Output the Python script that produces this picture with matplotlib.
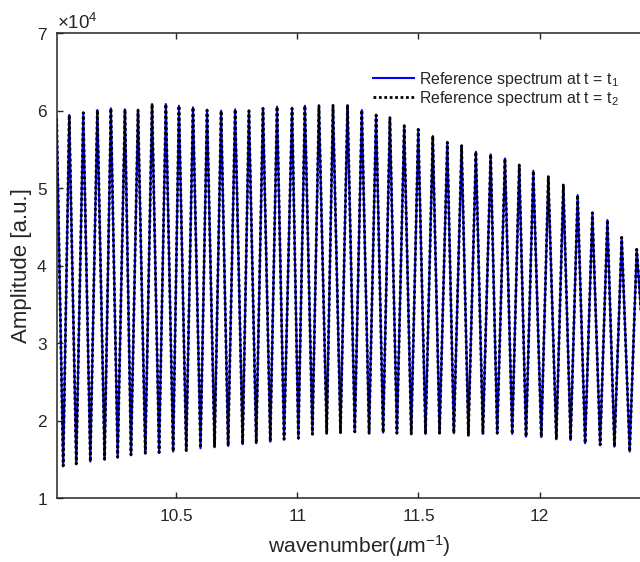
import numpy as np
import matplotlib
matplotlib.use('Agg')
import matplotlib.pyplot as plt

plt.rcParams['font.family'] = ['Liberation Sans', 'DejaVu Sans']
plt.rcParams['mathtext.fontset'] = 'custom'
plt.rcParams['mathtext.rm'] = 'Liberation Sans'
plt.rcParams['mathtext.it'] = 'Liberation Sans:italic'
plt.rcParams['mathtext.bf'] = 'Liberation Sans:bold'

# ---- data (amplitudes in units of 1e4) ----
peak_wn = [10.006, 10.058, 10.116, 10.174, 10.230, 10.288, 10.342, 10.400, 10.457, 10.511,
           10.569, 10.627, 10.685, 10.743, 10.800, 10.858, 10.916, 10.978, 11.031, 11.089,
           11.147, 11.207, 11.266, 11.325, 11.382, 11.441, 11.499, 11.559, 11.619, 11.678,
           11.737, 11.798, 11.857, 11.916, 11.974, 12.036, 12.098, 12.157, 12.218, 12.280,
           12.339, 12.401]
peak_amp_e4 = [5.900, 5.946, 5.976, 6.010, 6.032, 6.019, 6.010, 6.088, 6.088, 6.066,
               6.045, 6.010, 6.001, 6.019, 6.001, 6.032, 6.053, 6.032, 6.066, 6.066,
               6.070, 6.075, 6.010, 5.946, 5.911, 5.808, 5.761, 5.675, 5.594, 5.550,
               5.472, 5.439, 5.385, 5.301, 5.227, 5.150, 5.043, 4.913, 4.685, 4.591,
               4.368, 4.213]
trough_wn = [10.033, 10.087, 10.145, 10.204, 10.258, 10.313, 10.372, 10.429, 10.487, 10.541,
             10.600, 10.658, 10.714, 10.774, 10.830, 10.888, 10.945, 11.004, 11.062, 11.121,
             11.178, 11.237, 11.296, 11.354, 11.411, 11.470, 11.529, 11.587, 11.646, 11.706,
             11.766, 11.825, 11.887, 11.944, 12.007, 12.069, 12.128, 12.188, 12.250, 12.309,
             12.372, 12.460]
trough_amp_e4 = [1.417, 1.443, 1.473, 1.503, 1.529, 1.559, 1.581, 1.589, 1.602, 1.615,
                 1.645, 1.658, 1.675, 1.697, 1.710, 1.730, 1.761, 1.774, 1.826, 1.839,
                 1.847, 1.856, 1.839, 1.847, 1.839, 1.830, 1.830, 1.839, 1.839, 1.813,
                 1.830, 1.839, 1.830, 1.795, 1.790, 1.761, 1.752, 1.710, 1.688, 1.666,
                 1.602, 1.550]

series_labels = ['Reference spectrum at t = t$_1$', 'Reference spectrum at t = t$_2$']
x_ticks = [10.5, 11.0, 11.5, 12.0]
x_tick_labels = ['10.5', '11', '11.5', '12']
y_ticks_e4 = [1, 2, 3, 4, 5, 6, 7]
x_label = r'wavenumber($\mu$m$^{-1}$)'
y_label = 'Amplitude [a.u.]'

# ---- build spectrum polyline from extremes ----
wn_all = np.array(peak_wn + trough_wn)
amp_all = np.array(peak_amp_e4 + trough_amp_e4) * 1e4
order = np.argsort(wn_all)
wn = wn_all[order]
amp_t1 = amp_all[order]
amp_t2 = amp_all[order]

TXT = '#262626'
fig = plt.figure(figsize=(6.4, 5.62), dpi=100)
ax = fig.add_axes([57.3 / 640, 0.1134, 0.9428, 0.8273])

ax.plot(wn, amp_t1, color=(0, 0, 1), lw=1.5, ls='-', label=series_labels[0])
ax.plot(wn, amp_t2, color='black', lw=2.0, ls=(0, (1, 0.95)), label=series_labels[1])

ax.set_xlim(10.0087, 12.5)
ax.set_ylim(1e4, 7e4)
ax.set_xticks(x_ticks)
ax.set_xticklabels(x_tick_labels)
ax.set_yticks([v * 1e4 for v in y_ticks_e4])
ax.ticklabel_format(axis='y', style='sci', scilimits=(4, 4), useMathText=True)

for s in ax.spines.values():
    s.set_color(TXT)
    s.set_linewidth(1.1)
ax.tick_params(axis='both', direction='in', length=4, width=1.0, colors=TXT,
               labelsize=12.4, top=True, right=True)
ax.tick_params(axis='x', pad=8)
ax.tick_params(axis='y', pad=7)
ax.yaxis.get_offset_text().set_fontsize(13.5)
ax.yaxis.get_offset_text().set_color(TXT)

ax.set_xlabel(x_label, fontsize=15.2, color=TXT, labelpad=6)
ax.set_ylabel(y_label, fontsize=16, color=TXT, labelpad=3)

leg = ax.legend(loc='upper left', bbox_to_anchor=(373 / 640, 1 - 70 / 562),
                bbox_transform=fig.transFigure, frameon=False, fontsize=11.4,
                borderpad=0, borderaxespad=0, handlelength=2.6, handletextpad=0.3,
                labelspacing=0.0)
for t in leg.get_texts():
    t.set_color(TXT)

fig.savefig('out.png', dpi=100)
